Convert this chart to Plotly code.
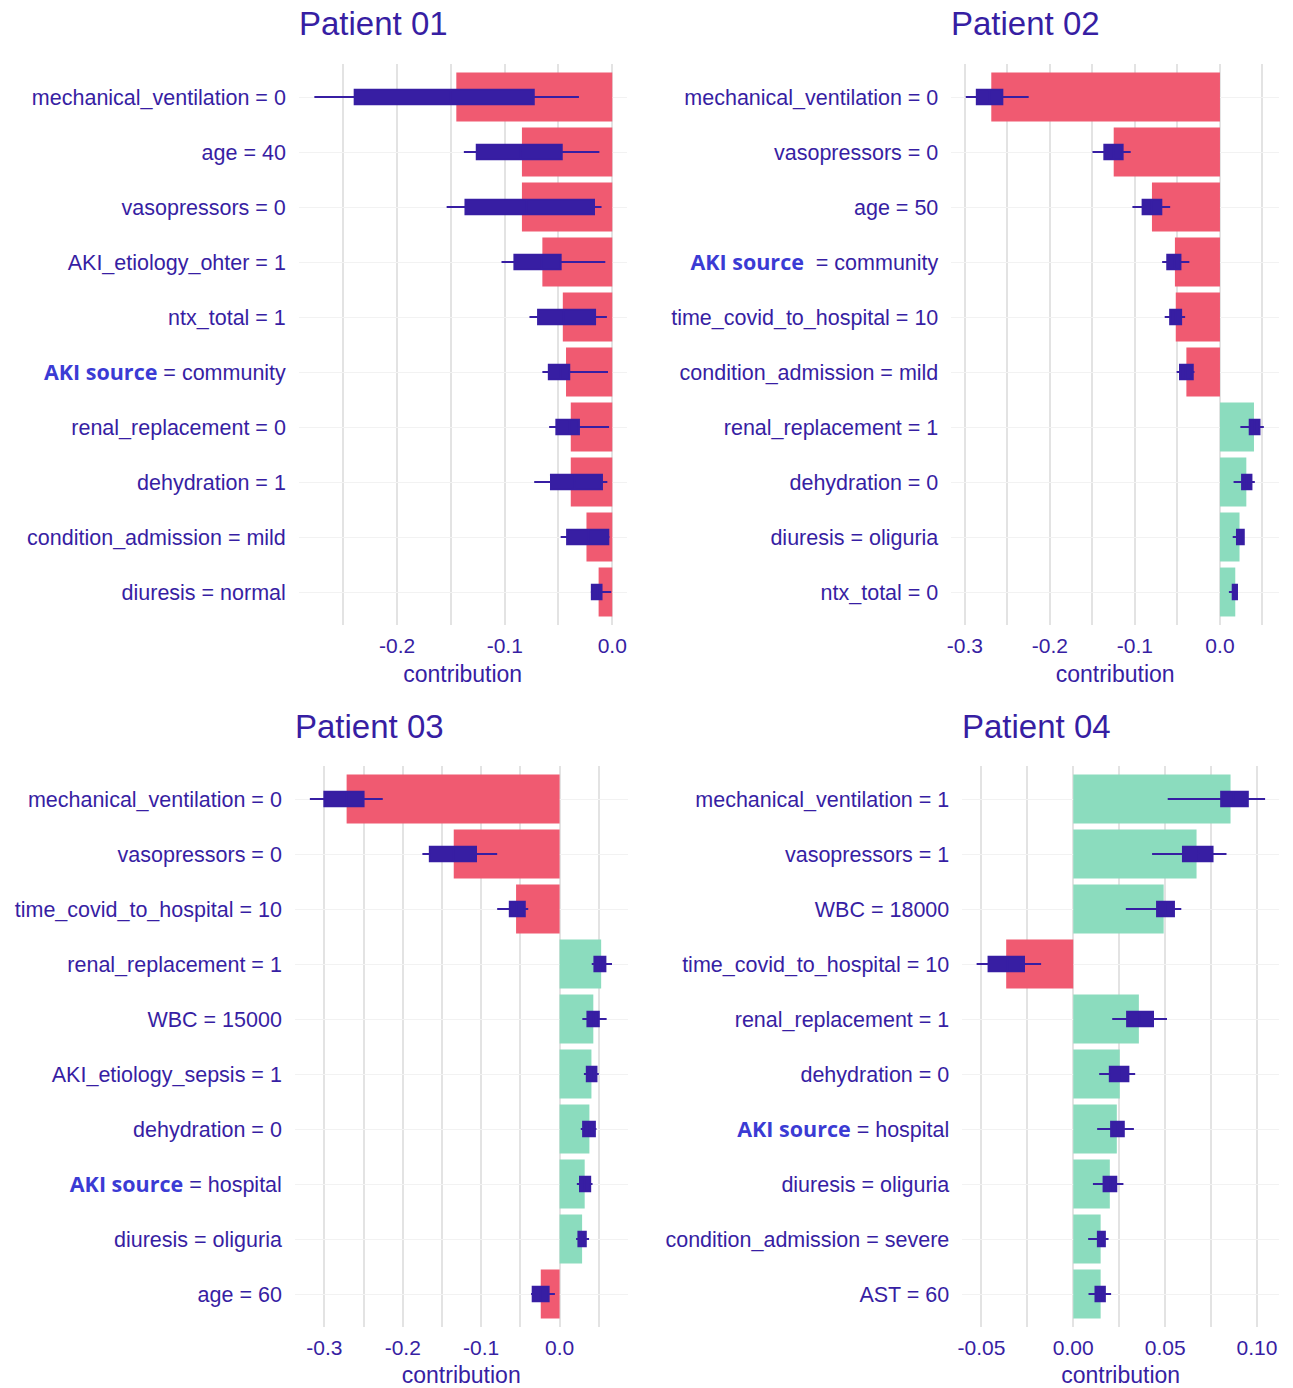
import plotly.graph_objects as go

# ---------------- data ----------------
# Each panel: variable labels (top to bottom), mean contribution (bar),
# and the bootstrap distribution summary (whisker low, q1, median, q3, whisker high).
AKI = '<span style="font-family:\'Open Sans\';font-weight:bold;color:#3b3bd4">AKI source</span>'

p1_labels = ["mechanical_ventilation = 0", "age = 40", "vasopressors = 0",
             "AKI_etiology_ohter = 1", "ntx_total = 1", AKI + " = community",
             "renal_replacement = 0", "dehydration = 1",
             "condition_admission = mild", "diuresis = normal"]
p1_contrib = [-0.145, -0.084, -0.084, -0.065, -0.046, -0.043, -0.0386, -0.0386, -0.024, -0.0127]
p1_lo = [-0.277, -0.138, -0.154, -0.103, -0.077, -0.065, -0.0587, -0.0726, -0.048, -0.020]
p1_q1 = [-0.2395, -0.126, -0.1365, -0.091, -0.069, -0.059, -0.052, -0.057, -0.042, -0.019]
p1_med = [-0.150, -0.085, -0.080, -0.066, -0.045, -0.048, -0.040, -0.035, -0.022, -0.014]
p1_q3 = [-0.073, -0.047, -0.017, -0.048, -0.016, -0.040, -0.031, -0.0096, -0.0037, -0.010]
p1_hi = [-0.031, -0.012, -0.010, -0.0065, -0.005, -0.004, -0.003, -0.0046, -0.0025, -0.001]

p2_labels = ["mechanical_ventilation = 0", "vasopressors = 0", "age = 50",
             AKI + "\u00a0 = community", "time_covid_to_hospital = 10",
             "condition_admission = mild", "renal_replacement = 1",
             "dehydration = 0", "diuresis = oliguria", "ntx_total = 0"]
p2_contrib = [-0.269, -0.125, -0.080, -0.053, -0.052, -0.0395, 0.040, 0.031, 0.023, 0.018]
p2_lo = [-0.299, -0.150, -0.103, -0.068, -0.065, -0.051, 0.024, 0.016, 0.015, 0.0105]
p2_q1 = [-0.286, -0.136, -0.091, -0.062, -0.0586, -0.047, 0.035, 0.026, 0.020, 0.015]
p2_med = [-0.271, -0.125, -0.080, -0.054, -0.052, -0.040, 0.041, 0.031, 0.024, 0.018]
p2_q3 = [-0.256, -0.1145, -0.069, -0.0465, -0.0457, -0.032, 0.0465, 0.037, 0.028, 0.020]
p2_hi = [-0.225, -0.105, -0.0586, -0.036, -0.041, -0.030, 0.0516, 0.041, 0.029, 0.021]

p3_labels = ["mechanical_ventilation = 0", "vasopressors = 0",
             "time_covid_to_hospital = 10", "renal_replacement = 1",
             "WBC = 15000", "AKI_etiology_sepsis = 1", "dehydration = 0",
             AKI + " = hospital", "diuresis = oliguria", "age = 60"]
p3_contrib = [-0.2716, -0.135, -0.0555, 0.053, 0.043, 0.0406, 0.038, 0.032, 0.0287, -0.024]
p3_lo = [-0.3185, -0.175, -0.0796, 0.041, 0.029, 0.031, 0.027, 0.022, 0.021, -0.0364]
p3_q1 = [-0.300, -0.1655, -0.0635, 0.0444, 0.0355, 0.0347, 0.030, 0.026, 0.024, -0.0343]
p3_med = [-0.272, -0.135, -0.055, 0.052, 0.043, 0.041, 0.038, 0.032, 0.029, -0.024]
p3_q3 = [-0.250, -0.1066, -0.0444, 0.0584, 0.050, 0.047, 0.045, 0.039, 0.0334, -0.014]
p3_hi = [-0.2255, -0.0796, -0.040, 0.0668, 0.060, 0.050, 0.047, 0.042, 0.0376, -0.006]

p4_labels = ["mechanical_ventilation = 1", "vasopressors = 1", "WBC = 18000",
             "time_covid_to_hospital = 10", "renal_replacement = 1",
             "dehydration = 0", AKI + " = hospital", "diuresis = oliguria",
             "condition_admission = severe", "AST = 60"]
p4_contrib = [0.0856, 0.0671, 0.0492, -0.0365, 0.0357, 0.0253, 0.0237, 0.0199, 0.0149, 0.0149]
p4_lo = [0.0514, 0.0429, 0.0286, -0.0526, 0.0212, 0.0141, 0.013, 0.0107, 0.0081, 0.0083]
p4_q1 = [0.0805, 0.0597, 0.0456, -0.0461, 0.0293, 0.0199, 0.0206, 0.0165, 0.0134, 0.0121]
p4_med = [0.087, 0.068, 0.050, -0.036, 0.036, 0.025, 0.024, 0.020, 0.015, 0.015]
p4_q3 = [0.095, 0.0758, 0.0548, -0.0268, 0.0434, 0.030, 0.0275, 0.0234, 0.0172, 0.0172]
p4_hi = [0.1044, 0.0834, 0.0588, -0.0175, 0.051, 0.0337, 0.033, 0.0273, 0.0192, 0.0206]

titles = ["Patient 01", "Patient 02", "Patient 03", "Patient 04"]

# ---------------- styling ----------------
W, H = 1293, 1388
INK = "#371ea3"
NEG = "#f05a71"
POS = "#8bdcbe"
FONT = "Liberation Sans, Arial, sans-serif"

# plot-area rectangles in pixels: (left, right, top, bottom)
boxes = [(295, 624, 64, 625), (950, 1279, 64, 625),
         (291, 625, 766, 1327), (961, 1279, 766, 1327)]
xranges = [(-0.2914, 0.0133), (-0.316, 0.0695), (-0.3376, 0.0867), (-0.0604, 0.112)]
xticks = [([-0.2, -0.1, 0.0], ["-0.2", "-0.1", "0.0"], 0.05),
          ([-0.3, -0.2, -0.1, 0.0], ["-0.3", "-0.2", "-0.1", "0.0"], 0.05),
          ([-0.3, -0.2, -0.1, 0.0], ["-0.3", "-0.2", "-0.1", "0.0"], 0.05),
          ([-0.05, 0.0, 0.05, 0.10], ["-0.05", "0.00", "0.05", "0.10"], 0.025)]

panels = [
    (p1_labels, p1_contrib, p1_lo, p1_q1, p1_med, p1_q3, p1_hi),
    (p2_labels, p2_contrib, p2_lo, p2_q1, p2_med, p2_q3, p2_hi),
    (p3_labels, p3_contrib, p3_lo, p3_q1, p3_med, p3_q3, p3_hi),
    (p4_labels, p4_contrib, p4_lo, p4_q1, p4_med, p4_q3, p4_hi),
]

fig = go.Figure()
layout = dict(width=W, height=H, margin=dict(l=0, r=0, t=0, b=0),
              paper_bgcolor="white", plot_bgcolor="white",
              showlegend=False, font=dict(family=FONT, color=INK),
              annotations=[])

for i, (labels, contrib, lo, q1, med, q3, hi) in enumerate(panels):
    n = "" if i == 0 else str(i + 1)
    xa, ya = "x" + n, "y" + n
    left, right, top, bottom = boxes[i]

    fig.add_trace(go.Bar(
        x=contrib, y=labels, orientation="h", base=0, width=0.89,
        marker=dict(color=[NEG if v < 0 else POS for v in contrib], line=dict(width=0)),
        xaxis=xa, yaxis=ya, hoverinfo="x+y"))

    fig.add_trace(go.Box(
        y=labels, q1=q1, median=med, q3=q3, lowerfence=lo, upperfence=hi,
        orientation="h", width=0.26, whiskerwidth=0,
        fillcolor=INK, line=dict(color=INK, width=2),
        xaxis=xa, yaxis=ya, boxpoints=False))

    tv, tt, minor_step = xticks[i]
    layout["xaxis" + n] = dict(
        domain=[left / W, right / W], anchor=ya, range=list(xranges[i]),
        tickvals=tv, ticktext=tt, showgrid=True, gridcolor="#e3e3e3", gridwidth=1.6,
        minor=dict(dtick=minor_step, tick0=0, showgrid=True, gridcolor="#e3e3e3", gridwidth=1.6),
        zeroline=False, showline=False, ticks="", ticklabelstandoff=6,
        tickfont=dict(size=21, color=INK, family=FONT),
        title=dict(text="contribution", font=dict(size=23, color=INK, family=FONT), standoff=9))
    layout["yaxis" + n] = dict(
        domain=[1 - bottom / H, 1 - top / H], anchor=xa,
        type="category", categoryorder="array", categoryarray=labels,
        range=[len(labels) - 0.4, -0.6],
        showgrid=True, gridcolor="#f2f2f2", gridwidth=1.2,
        zeroline=False, showline=False, ticks="", ticklabelstandoff=12,
        tickfont=dict(size=21.5, color=INK, family=FONT))

    layout["annotations"].append(dict(
        text=titles[i], xref="paper", yref="paper",
        x=(left - 2) / W, y=1 - (top - 40) / H, xanchor="left", yanchor="middle",
        showarrow=False, font=dict(size=33, color=INK, family=FONT)))

fig.update_layout(**layout)
fig.update_layout(boxmode="overlay", barmode="overlay")
fig.write_html("out.html")
